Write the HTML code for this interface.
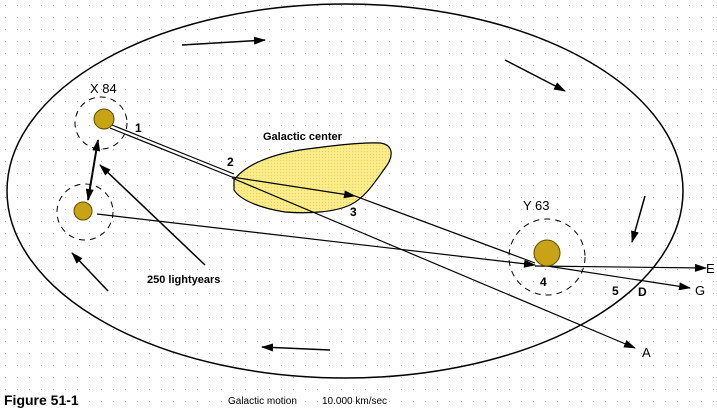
<!DOCTYPE html>
<html><head><style>
html,body{margin:0;padding:0;background:#fff;}
svg{display:block;font-family:"Liberation Sans",Arial,sans-serif;}
</style></head><body>
<svg width="717" height="411" viewBox="0 0 717 411" xmlns="http://www.w3.org/2000/svg">
<defs>
<pattern id="dots" width="12" height="12" patternUnits="userSpaceOnUse">
<rect x="5" y="5" width="1" height="1" fill="#aaa"/>
</pattern>
<pattern id="ydots" width="3" height="3" patternUnits="userSpaceOnUse">
<rect width="3" height="3" fill="#fbec8a"/><rect x="1" y="1" width="1" height="1" fill="#e8d060"/>
</pattern>
<marker id="ar" markerWidth="12" markerHeight="8" refX="11" refY="4" orient="auto" markerUnits="userSpaceOnUse">
<path d="M0,0 L12,4 L0,8 Z" fill="#000"/>
</marker>
<marker id="ars" markerWidth="12" markerHeight="8" refX="1" refY="4" orient="auto" markerUnits="userSpaceOnUse">
<path d="M12,0 L0,4 L12,8 Z" fill="#000"/>
</marker>
</defs>
<rect width="717" height="411" fill="url(#dots)"/>
<ellipse cx="345" cy="191" rx="338" ry="187" fill="none" stroke="#000" stroke-width="1.5"/>
<path d="M234,180 C245,165 270,155 300,150 C330,146 360,142 380,143 C395,145 393,158 385,168 C375,182 365,198 350,205 C335,212 310,214 285,212 C260,208 240,200 234,190 Z" fill="url(#ydots)" stroke="#000" stroke-width="1.2"/>
<g stroke="#000" stroke-dasharray="6,5" fill="none" stroke-width="1">
<circle cx="101" cy="123" r="26"/>
<circle cx="85" cy="212" r="28"/>
<circle cx="547" cy="257" r="38"/>
</g>
<g stroke="#000" fill="none" stroke-width="1.2">
<line x1="110" y1="128" x2="232" y2="177"/>
<line x1="112" y1="125" x2="234" y2="174"/>
<line x1="232" y1="177" x2="355" y2="196" marker-end="url(#ar)"/>
<line x1="232" y1="178" x2="635" y2="348" marker-end="url(#ar)"/>
<line x1="355" y1="196" x2="535" y2="263"/>
<line x1="97" y1="214" x2="535" y2="265" marker-end="url(#ar)"/>
<line x1="535" y1="266" x2="706" y2="268" marker-end="url(#ar)"/>
<line x1="547" y1="266" x2="690" y2="288" marker-end="url(#ar)"/>
<line x1="98" y1="140" x2="88" y2="200" stroke-width="2" marker-start="url(#ars)" marker-end="url(#ar)"/>
<line x1="205" y1="265" x2="100" y2="165" stroke-width="1.5" marker-end="url(#ar)"/>
<line x1="182" y1="45" x2="265" y2="40" stroke-width="1.5" marker-end="url(#ar)"/>
<line x1="505" y1="60" x2="565" y2="91" stroke-width="1.5" marker-end="url(#ar)"/>
<line x1="645" y1="196" x2="632" y2="242" stroke-width="1.5" marker-end="url(#ar)"/>
<line x1="330" y1="350" x2="262" y2="347" stroke-width="1.5" marker-end="url(#ar)"/>
<line x1="108" y1="291" x2="72" y2="253" stroke-width="1.5" marker-end="url(#ar)"/>
</g>
<g fill="#c9a316" stroke="#5a4a00" stroke-width="1">
<circle cx="104" cy="119" r="10"/>
<circle cx="83" cy="211" r="9"/>
<circle cx="547" cy="253" r="13"/>
</g>
<g font-size="12" fill="#000">
<text x="90" y="93" font-size="13">X 84</text>
<text x="135" y="132" font-weight="bold">1</text>
<text x="263" y="140" font-weight="bold" font-size="11">Galactic center</text>
<text x="227" y="166" font-weight="bold">2</text>
<text x="350" y="216" font-weight="bold">3</text>
<text x="523" y="210" font-size="13">Y 63</text>
<text x="540" y="286" font-weight="bold">4</text>
<text x="612" y="295" font-weight="bold">5</text>
<text x="638" y="296" font-weight="bold">D</text>
<text x="706" y="273" font-size="13">E</text>
<text x="695" y="295" font-size="13">G</text>
<text x="642" y="357" font-size="13">A</text>
<text x="147" y="283" font-weight="bold" font-size="11">250 lightyears</text>
<text x="4" y="405" font-weight="bold" font-size="14">Figure 51-1</text>
<text x="228" y="404" font-size="10">Galactic motion</text>
<text x="322" y="404" font-size="10">10.000 km/sec</text>
</g>
</svg>
</body></html>
